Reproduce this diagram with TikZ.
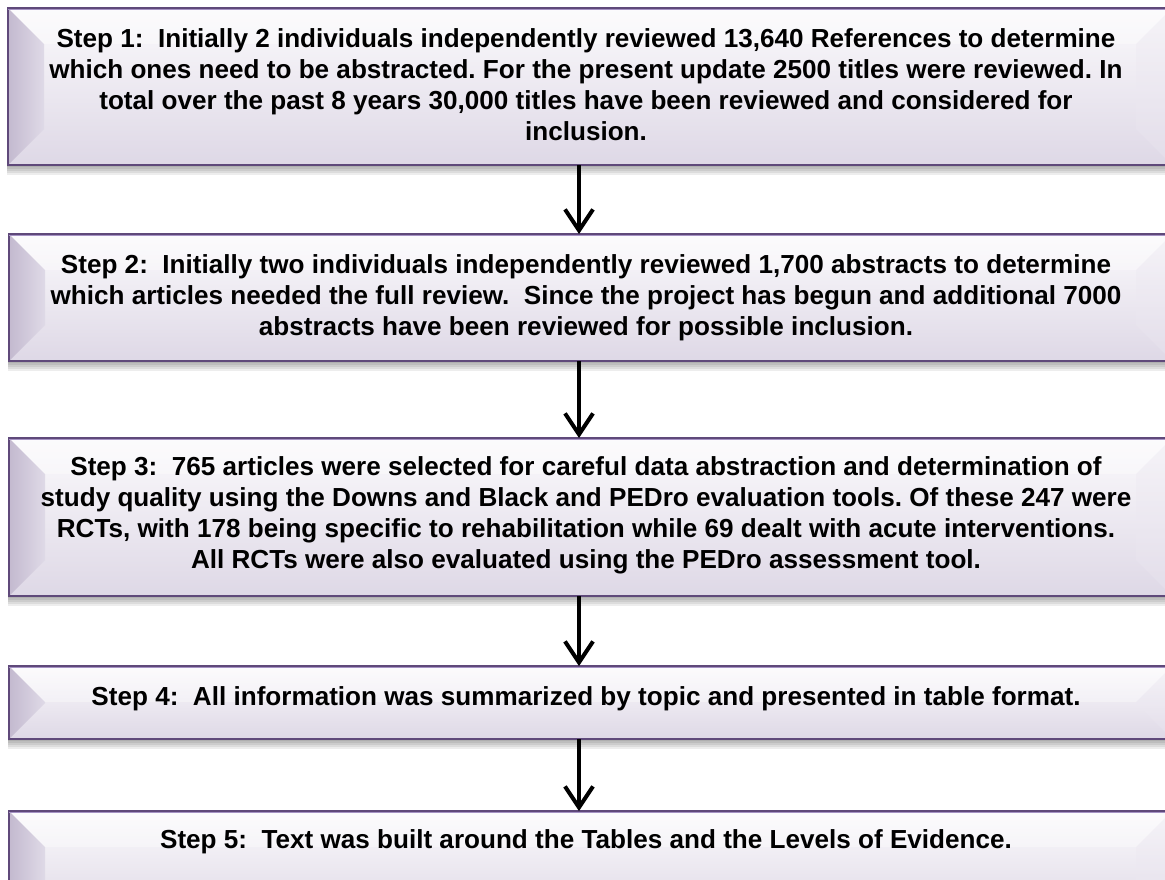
\documentclass[tikz,border=0pt]{standalone}
\usepackage{fontspec}
\setmainfont{Liberation Sans}
\usetikzlibrary{arrows.meta}
\definecolor{bord}{HTML}{5F497A}
\definecolor{bordlt}{HTML}{A592C4}
\definecolor{facetop}{HTML}{FBFAFC}
\definecolor{facebot}{HTML}{DED8E6}
\definecolor{bevdark}{HTML}{C3B9CF}
\definecolor{bevmid}{HTML}{DFDAE7}
\definecolor{bevlight}{HTML}{ECE8F1}
\tikzset{
  boxframe/.style={draw=bord, line width=2.6pt, inner sep=0pt, outer sep=0pt},
  steptext/.style={anchor=north, align=center, inner sep=0pt, text=black,
    font=\fontsize{26.1}{31}\selectfont\bfseries\frenchspacing},
  flowarrow/.style={line width=4pt, -{Straight Barb[length=21pt,width=28pt]}},
}
\newcommand{\bevelbox}[5]{%
  \pgfmathsetmacro{\ins}{min(36,(#5-#3)/2)}%
  \foreach \d in {2,4,6,8,10}{%
    \fill[black,opacity=0.07] ({#2-1},#5) rectangle ({#4+1},{#5+\d});
  }
  \shade[top color=facetop, bottom color=facebot] (#2,#3) rectangle (#4,#5);
  \fill[white,opacity=0.35] (#2,#3) -- (#4,#3) -- ({#4-\ins},{#3+\ins}) -- ({#2+\ins},{#3+\ins}) -- cycle;
  \shade[left color=bevdark, right color=bevmid] (#2,#3) -- ({#2+\ins},{#3+\ins}) -- ({#2+\ins},{#5-\ins}) -- (#2,#5) -- cycle;
  \fill[bevlight,opacity=0.35] (#4,#3) -- ({#4-\ins},{#3+\ins}) -- ({#4-\ins},{#5-\ins}) -- (#4,#5) -- cycle;
  \node[boxframe, minimum width={(#4-#2)*1pt}, minimum height={(#5-#3)*1pt}] (#1) at ({(#2+#4)/2},{(#3+#5)/2}) {};
  \draw[bordlt, line width=1pt] ([yshift=-1.8pt]#1.north west) -- ([yshift=-1.8pt]#1.north east);
}
\begin{document}
\begin{tikzpicture}[x=1pt,y=-1pt]
\useasboundingbox (0,0) rectangle (1165,879);
\clip (0,0) rectangle (1165,879);
\fill[white] (0,0) rectangle (1165,879);
\bevelbox{s1}{8}{8}{1172}{165}
\bevelbox{s2}{9}{234}{1172}{361}
\bevelbox{s3}{9}{438}{1172}{596}
\bevelbox{s4}{9}{666}{1172}{739}
\bevelbox{s5}{9}{811}{1172}{920}
\node[steptext] (t1) at (586,28.3) {Step 1:~ Initially 2 individuals independently reviewed 13,640 References to determine\\which ones need to be abstracted. For the present update 2500 titles were reviewed. In\\total over the past 8 years 30,000 titles have been reviewed and considered for\\inclusion.};
\node[steptext] (t2) at (586,254.3) {Step 2:~ Initially two individuals independently reviewed 1,700 abstracts to determine\\which articles needed the full review.~ Since the project has begun and additional 7000\\abstracts have been reviewed for possible inclusion.};
\node[steptext] (t3) at (586,456.8) {Step 3:~ 765 articles were selected for careful data abstraction and determination of\\study quality using the Downs and Black and PEDro evaluation tools. Of these 247 were\\RCTs, with 178 being specific to rehabilitation while 69 dealt with acute interventions.\\All RCTs were also evaluated using the PEDro assessment tool.};
\node[steptext] (t4) at (586,686.8) {Step 4:~ All information was summarized by topic and presented in table format.};
\node[steptext] (t5) at (586,829.8) {Step 5:~ Text was built around the Tables and the Levels of Evidence.};
\coordinate (ax) at (579,0);
\draw[flowarrow] (s1.south -| ax) -- (s2.north -| ax);
\draw[flowarrow] (s2.south -| ax) -- (s3.north -| ax);
\draw[flowarrow] (s3.south -| ax) -- (s4.north -| ax);
\draw[flowarrow] (s4.south -| ax) -- (s5.north -| ax);
\end{tikzpicture}
\end{document}
